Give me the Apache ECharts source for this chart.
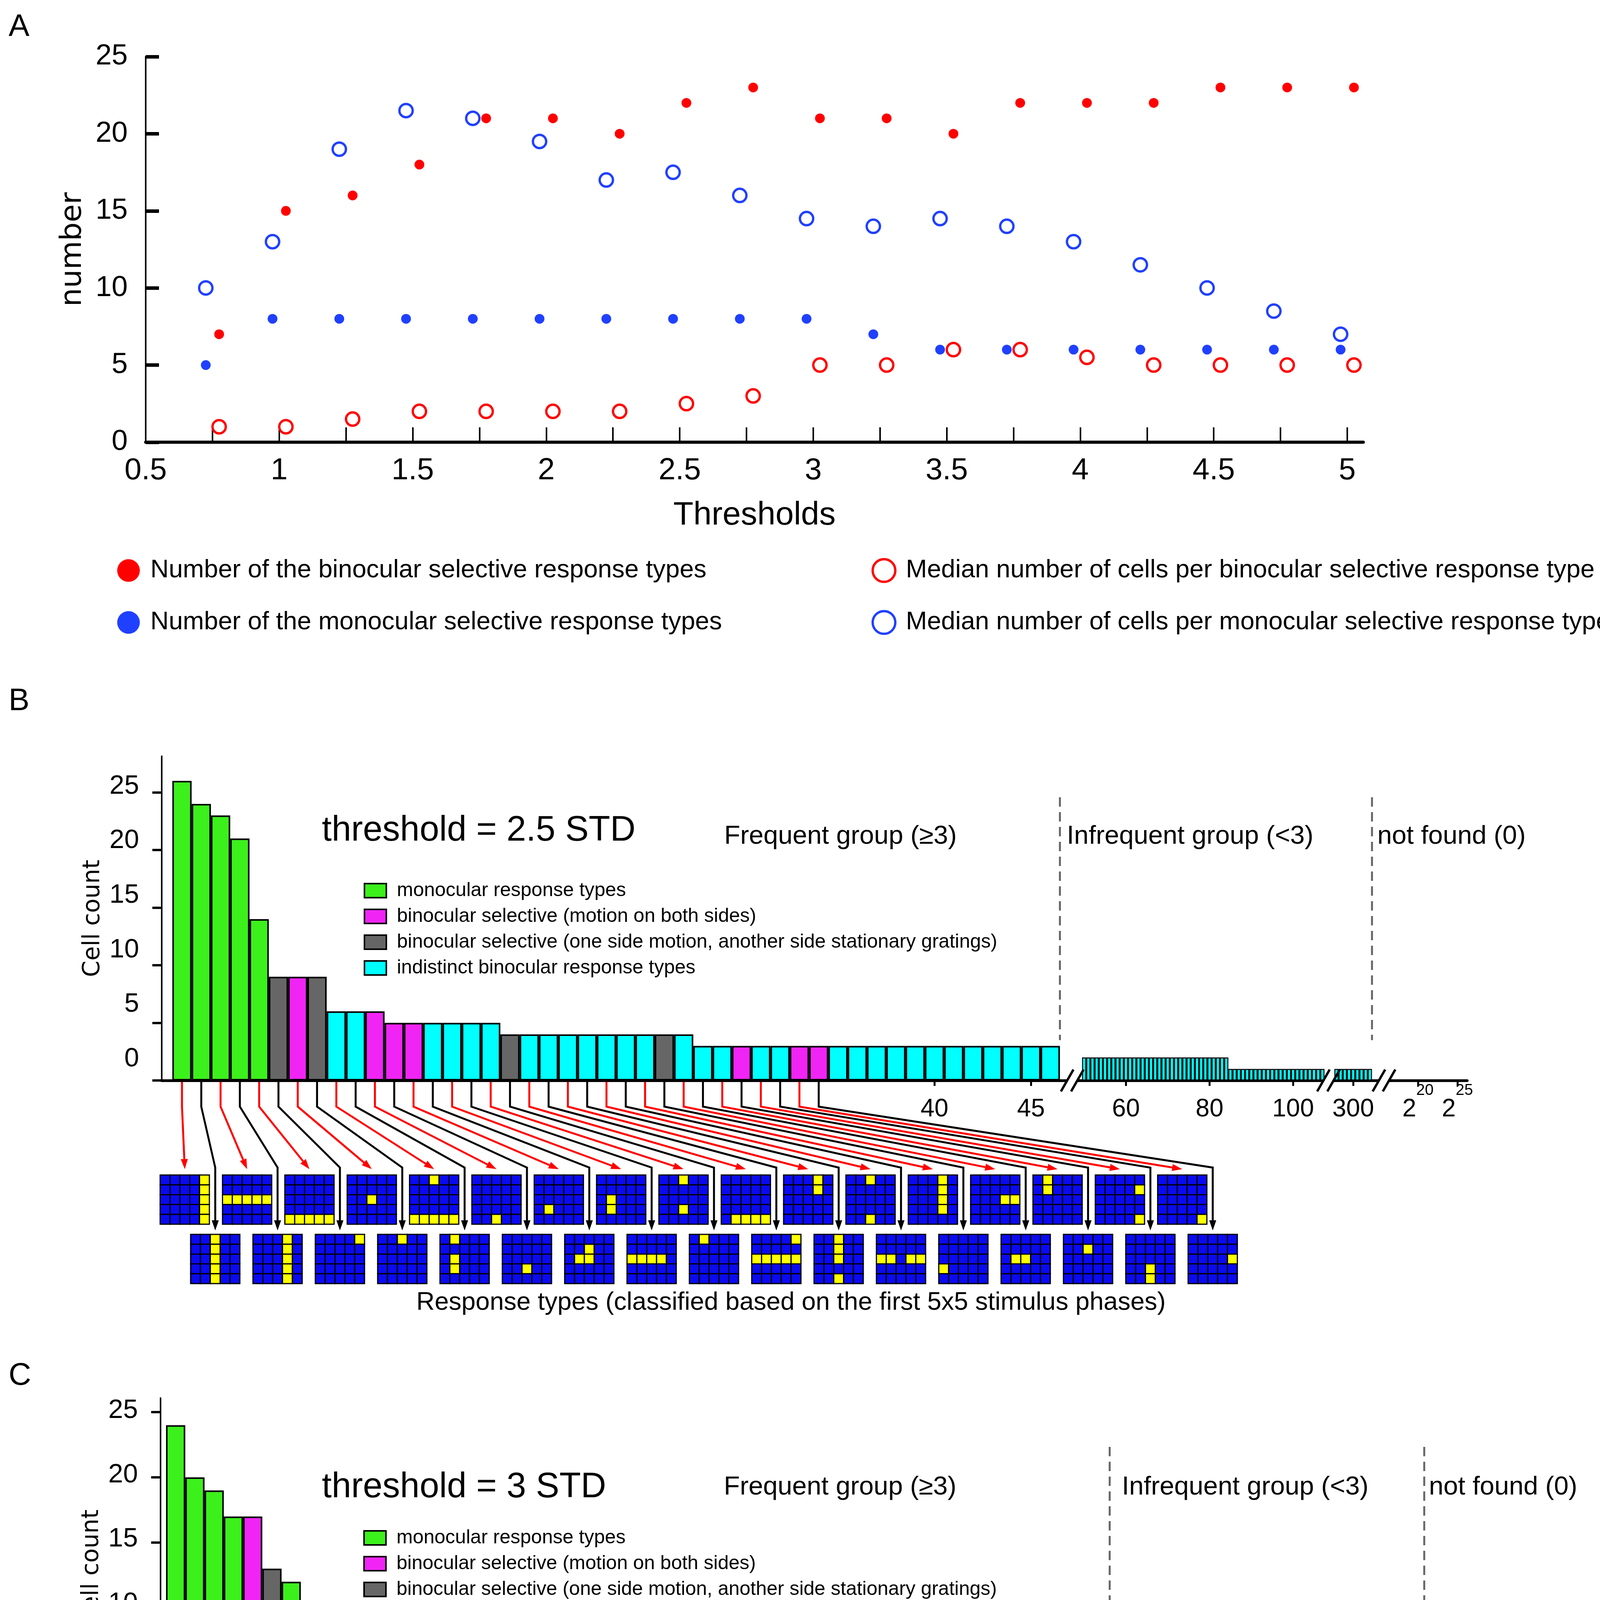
<!DOCTYPE html>
<html>
<head>
<meta charset="utf-8">
<title>Figure S5</title>
<script src="https://cdn.jsdelivr.net/npm/echarts@6.0.0/dist/echarts.min.js"></script>
<style>
  html, body { margin: 0; padding: 0; background: #fff; }
  #chart { width: 4442px; height: 6865px; }
</style>
</head>
<body>
<div id="chart"></div>
<script>
// ---------- panel A data ----------
const thresholds = [0.75, 1, 1.25, 1.5, 1.75, 2, 2.25, 2.5, 2.75, 3, 3.25, 3.5, 3.75, 4, 4.25, 4.5, 4.75, 5];
const binocularTypes = [7, 15, 16, 18, 21, 21, 20, 22, 23, 21, 21, 20, 22, 22, 22, 23, 23, 23];
const monocularTypes = [5, 8, 8, 8, 8, 8, 8, 8, 8, 8, 7, 6, 6, 6, 6, 6, 6, 6];
const binocularMedian = [1, 1, 1.5, 2, 2, 2, 2, 2.5, 3, 5, 5, 6, 6, 5.5, 5, 5, 5, 5];
const monocularMedian = [10, 13, 19, 21.5, 21, 19.5, 17, 17.5, 16, 14.5, 14, 14.5, 14, 13, 11.5, 10, 8.5, 7];
const thresholdTicks = [0.5, 0.75, 1, 1.25, 1.5, 1.75, 2, 2.25, 2.5, 2.75, 3, 3.25, 3.5, 3.75, 4, 4.25, 4.5, 4.75, 5];
const thresholdLabels = [0.5, 1, 1.5, 2, 2.5, 3, 3.5, 4, 4.5, 5];

// ---------- panels B-D data ----------
// type codes: g monocular, m binocular (motion both sides), k binocular (motion + stationary), c indistinct
const countsB = [26, 24, 23, 21, 14, 9, 9, 9, 6, 6, 6, 5, 5, 5, 5, 5, 5, 4, 4, 4, 4, 4, 4, 4, 4, 4, 4,
  3, 3, 3, 3, 3, 3, 3, 3, 3, 3, 3, 3, 3, 3, 3, 3, 3, 3, 3];
const typesB = 'ggggg kmk cc mmm cccc k ccccccc k ccc m cc mm cccccccccccc'.replace(/ /g, '').split('');
const countsC = [24, 20, 19, 17, 17, 13, 12, 7, 7, 7, 7, 6, 6, 6, 6, 6, 5, 5, 5, 5, 5, 5, 5, 5, 4, 4, 4, 4, 4,
  3, 3, 3, 3, 3, 3, 3, 3, 3, 3, 3, 3, 3, 3, 3, 3, 3, 3, 3, 3];
const typesC = 'gggg m k g mmmmmmm cc mm kk cccc ccccc g mm k cccccccccccccccc'.replace(/ /g, '').split('');
const countsD = [27, 19, 16, 16, 13, 13, 12, 10, 9, 8, 7, 7, 7, 7, 6, 6, 6, 5, 5, 5, 5, 5, 4, 4, 4, 4, 4, 4,
  3, 3, 3, 3, 3, 3, 3, 3, 3, 3, 3, 3, 3, 3, 3, 3, 3, 3, 3, 3];
const typesD = 'g m ggg k c mm c k mmmm k mm c k ccc m c k cc k mm ccccccccccccccccc'.replace(/ /g, '').split('');

// infrequent group (after the first axis break)
const infreqStart = 50;
const infreqB = [2, 2, 2, 2, 2, 2, 2, 2, 2, 2, 2, 2, 2, 2, 2, 2, 2, 2, 2, 2, 2, 2, 2, 2, 2, 2, 2, 2, 2, 2,
  2, 2, 2, 2, 2, 1, 1, 1, 1, 1, 1, 1, 1, 1, 1, 1, 1, 1, 1, 1, 1, 1, 1, 1, 1, 1, 1, 1];
const infreqC = [2, 2, 2, 2, 2, 2, 2, 2, 2, 2, 2, 2, 2, 2, 2, 2, 2, 2, 2, 2, 2, 2, 2, 2, 2, 2, 2, 2, 2, 2,
  2, 1, 1, 1, 1, 1, 1, 1, 1, 1, 1, 1, 1, 1, 1, 1, 1, 1, 1, 1, 1, 1, 1, 1, 1, 1, 1, 1];
const infreqD = [2, 2, 2, 2, 2, 2, 2, 2, 2, 2, 2, 2, 2, 2, 2, 2, 2, 2, 2, 2, 2, 2, 2, 2, 2, 2, 2,
  1, 1, 1, 1, 1, 1, 1, 1, 1, 1, 1, 1, 1, 1, 1, 1, 1, 1, 1, 1, 1, 1, 1, 1, 1, 1, 1, 1, 1, 1, 1];
// last segment of the infrequent group (after the second break)
const tailB = [1, 1, 1, 1, 1, 1, 1, 1, 1];
const tailC = [1, 1, 1, 1, 1, 1, 1, 1, 1, 1];
const tailD = [1, 1, 1, 1, 1, 1, 1, 1, 1];
const tailStartB = 296, tailStartC = 247, tailStartD = 207;

// tick labels
const yTicks = [0, 5, 10, 15, 20, 25];
const freqTicks = [40, 45];
const infreqTicks = [60, 80, 100];
const tailTicksB = [300], tailTicksC = [250], tailTicksD = [210];
const notFoundExps = [20, 25];

// 5x5 response type icons (rows top to bottom, 1 = yellow)
const iconsBTop = [
  '00001 00001 00001 00001 00001', '00000 00000 11111 00000 00000', '00000 00000 00000 00000 11111',
  '00000 00000 00100 00000 00000', '00100 00000 00000 00000 11111', '00000 00000 00000 00000 00100',
  '00000 00000 00000 01000 00000', '00000 00000 01000 01000 00000', '00100 00000 00000 00100 00000',
  '00000 00000 00000 00000 01111', '00010 00010 00000 00000 00000', '00100 00000 00000 00000 00100',
  '00010 00010 00010 00010 00000', '00000 00000 00011 00000 00000', '01000 01000 00000 00000 00000',
  '00000 00001 00000 00000 00001', '00000 00000 00000 00000 00001'];
const iconsBBottom = [
  '00100 00100 00100 00100 00100', '00010 00010 00010 00010 00010', '00001 00000 00000 00000 00000',
  '00100 00000 00000 00000 00000', '01000 00000 01000 01000 00000', '00000 00000 00000 00100 00000',
  '00000 00100 01100 00000 00000', '00000 00000 11110 00000 00000', '01000 00000 00000 00000 00000',
  '00001 00000 11111 00000 00000', '00100 00100 00100 00000 00100', '00000 00000 11011 00000 00000',
  '00000 00000 00000 10000 00000', '00000 00000 01100 00000 00000', '00000 00100 00000 00000 00000',
  '00000 00000 00000 00100 00100', '00000 00000 00001 00000 00000'];
const iconsCTop = [
  '00001 00001 00001 00001 00001', '00000 00000 11111 00000 00000', '00000 00000 00100 00000 00000',
  '00000 00000 00000 00000 11111', '00000 00000 01000 00000 00000', '00000 00000 00010 00000 00000',
  '00000 00000 00000 01000 00000', '00000 00000 01100 00000 00000', '00000 00010 00000 00000 00000',
  '01000 00000 00000 00000 00000', '00000 00000 11110 00000 00000', '00000 00000 00000 01100 00000',
  '00100 00000 00100 00000 00100', '00100 00000 00000 00000 11111', '00000 00000 01000 01000 00000',
  '00000 01000 00000 00000 00000', '00010 00000 00000 00000 00000'];
const iconsCBottom = [
  '00100 00100 00100 00100 00100', '00010 00010 00010 00010 00010', '00100 00000 00000 00000 00000',
  '00000 00000 00000 00000 00001', '00000 00000 00000 00100 00000', '00000 00000 00000 00000 00100',
  '00000 00000 00001 00000 00000', '01000 00000 01000 01000 00000', '00000 00100 00000 00000 00000',
  '00001 00000 00000 00000 00000', '00010 00010 00010 00010 00000', '00000 00001 00000 00000 00001',
  '00100 00000 00000 00000 00100', '00000 00100 01100 00000 00000', '00000 11111 00000 00000 00000',
  '00000 00000 00000 00010 00000', '00010 00000 00010 00010 00010'];
const iconsDTop = [
  '00001 00001 00001 00001 00001', '00100 00100 00100 00100 00100', '00000 00000 00000 00000 11111',
  '00010 00010 00010 00010 00010', '00000 00000 00010 00000 00000', '01000 00000 00000 00000 00000',
  '00000 01000 00000 00000 00000', '00000 00000 01000 00000 00000', '00000 00010 00000 00000 00000',
  '00010 00010 00010 00010 00000', '00000 00000 11110 00000 00000', '01000 00000 00000 01000 00000',
  '00010 00010 00000 00000 00010', '01000 00000 01000 01000 00000', '00000 00000 00000 10000 00000',
  '00000 00000 00000 00000 01000', '00000 00000 00001 00001 00000'];
const iconsDBottom = [
  '00000 00000 00100 00000 00000', '00000 00000 11111 00000 00000', '00100 00000 00000 00000 00000',
  '00000 00000 00000 00000 00001', '00000 00000 00000 01100 00000', '00000 00000 00000 01000 00000',
  '00000 00000 00000 00000 00100', '00010 00000 00000 00000 00000', '00000 00000 00000 00100 00000',
  '00001 00000 00000 00000 00000', '00000 00000 11000 00000 00000', '00000 00100 00000 00000 00000',
  '00010 00010 00000 00000 00000', '00000 00000 11011 00000 00000', '00000 00000 00001 00000 00000',
  '00000 00000 00000 00000 00011', '00000 00000 01110 00000 00000'];

// ---------- styling / layout ----------
const FONT = '"Liberation Sans", Arial, sans-serif';
const VFONT = '"DejaVu Sans", Verdana, sans-serif';
const TYPE_KEYS = ['g', 'm', 'k', 'c'];
const TYPE_NAMES = {
  g: 'monocular response types',
  m: 'binocular selective (motion on both sides)',
  k: 'binocular selective (one side motion, another side stationary gratings)',
  c: 'indistinct binocular response types'
};
const TYPE_COLORS = { g: '#3cf01c', m: '#f024f5', k: '#666666', c: '#00ffff' };
const RED = '#ff0000', BLUE = '#2040ff';
const ICON_BLUE = '#0a0af0', ICON_YELLOW = '#ffff00';
const ICON_CELL = 25.2;
const ICON_STEP = 159.6 / ICON_CELL;

const layoutB = {
  letter: 'B', letterY: 1796, threshold: 'threshold = 2.5 STD',
  y0: 2766, yTop: 1936, unit: 29.5, labY0: 2711, labY25: 2013,
  F: { left: 414, right: 2745, min: -0.05, max: 47.14 },
  I: { left: 2745, right: 3401, min: 47.16, max: 108.47 },
  S: { left: 3401, right: 3543, min: 294.1, max: 307.37 },
  N: { left: 3543, right: 3756, min: 15.69, max: 26.24 },
  dashTop: 2041, dashBottomVal: 3.5, legend: { left: 926, top: 2250 },
  titleX: 824, titleY: 2127, groupY: 2142, freqX: 1854, infreqX: 2731, nfX: 3526,
  iconTop: { left: 410, top: 3008 }, iconBot: { left: 488, top: 3160 },
  redTipY: 2993, blackTipY: 3150, captionY: 3335
};
const layoutC = {
  letter: 'C', letterY: 3523, threshold: 'threshold = 3 STD',
  y0: 4450, yTop: 3579, unit: 33.4, labY0: 4435, labY25: 3611,
  F: { left: 411, right: 2861, min: 0.216, max: 49.91 },
  I: { left: 2861, right: 3521, min: 46.7, max: 108.38 },
  S: { left: 3521, right: 3663, min: 244.7, max: 258.1 },
  N: { left: 3663, right: 3882, min: 17.55, max: 27.88 },
  dashTop: 3704, dashBottomVal: 3.3, legend: { left: 925, top: 3907 },
  titleX: 824, titleY: 3808, groupY: 3808, freqX: 1853, infreqX: 2872, nfX: 3658,
  iconTop: { left: 400, top: 4689 }, iconBot: { left: 478, top: 4841 },
  redTipY: 4673, blackTipY: 4830, captionY: 5011
};
const layoutD = {
  letter: 'D', letterY: 5219, threshold: 'threshold = 3.5 STD',
  y0: 6103, yTop: 5275, unit: 28.5, labY0: 6087, labY25: 5395,
  F: { left: 411, right: 2840, min: -0.067, max: 49.1 },
  I: { left: 2840, right: 3498, min: 46.9, max: 108.17 },
  S: { left: 3498, right: 3628, min: 204.7, max: 216.96 },
  N: { left: 3628, right: 3852, min: 15.33, max: 25.9 },
  dashTop: 5389, dashBottomVal: 3.2, legend: { left: 925, top: 5606 },
  titleX: 824, titleY: 5477, groupY: 5490, freqX: 1853, infreqX: 2837, nfX: 3628,
  iconTop: { left: 407, top: 6347 }, iconBot: { left: 488, top: 6499 },
  redTipY: 6330, blackTipY: 6488, captionY: 6671
};

const grid = [], xAxis = [], yAxis = [], series = [], legend = [];

// ---------- panel A ----------
grid.push({ left: 373, top: 145, width: 3076 * 4.56 / 4.5, height: 987 });
xAxis.push({
  gridIndex: 0, type: 'value', min: 0.5, max: 5.06,
  name: 'Thresholds', nameLocation: 'middle', nameGap: 146,
  nameTextStyle: { fontSize: 84, fontFamily: FONT, color: '#000' },
  axisLine: { onZero: false, lineStyle: { color: '#000', width: 8 } },
  axisTick: { inside: true, length: 38, customValues: thresholdTicks, lineStyle: { color: '#000', width: 4 } },
  axisLabel: { customValues: thresholdLabels, fontSize: 78, fontFamily: FONT, color: '#000', margin: 34 },
  splitLine: { show: false }
});
yAxis.push({
  gridIndex: 0, type: 'value', min: 0, max: 25, interval: 5,
  name: 'number', nameLocation: 'middle', nameGap: 148,
  nameTextStyle: { fontSize: 75, fontFamily: VFONT, color: '#000' },
  axisLine: { show: true, lineStyle: { color: '#000', width: 4 } },
  axisTick: { show: true, inside: true, length: 34, lineStyle: { color: '#000', width: 9 } },
  axisLabel: { fontSize: 74, fontFamily: FONT, color: '#000', margin: 46 },
  splitLine: { show: false }
});

const aSeries = [
  { name: 'Median number of cells per monocular selective response type', vals: monocularMedian, dx: -0.025, color: BLUE, open: true },
  { name: 'Median number of cells per binocular selective response type', vals: binocularMedian, dx: 0.025, color: RED, open: true },
  { name: 'Number of the monocular selective response types', vals: monocularTypes, dx: -0.025, color: BLUE, open: false },
  { name: 'Number of the binocular selective response types', vals: binocularTypes, dx: 0.025, color: RED, open: false }
];
aSeries.forEach(s => series.push({
  type: 'scatter', name: s.name, xAxisIndex: 0, yAxisIndex: 0,
  symbol: 'circle', symbolSize: s.open ? 34 : 25,
  itemStyle: s.open
    ? { color: 'rgba(255,255,255,0)', borderColor: s.color, borderWidth: 6, opacity: 1 }
    : { color: s.color, opacity: 1 },
  data: thresholds.map((t, i) => [t + s.dx, s.vals[i]])
}));

const aLegendText = { fontSize: 65, fontFamily: FONT, color: '#000', lineHeight: 58, padding: [0, 0, 0, 22] };
legend.push({
  left: 295, top: 1423, orient: 'vertical', itemWidth: 58, itemHeight: 58, itemGap: 68, selectedMode: false,
  textStyle: aLegendText,
  data: [
    { name: 'Number of the binocular selective response types', icon: 'circle', itemStyle: { color: RED, borderWidth: 0 } },
    { name: 'Number of the monocular selective response types', icon: 'circle', itemStyle: { color: BLUE, borderWidth: 0 } }
  ]
});
legend.push({
  left: 2226, top: 1423, orient: 'vertical', itemWidth: 58, itemHeight: 58, itemGap: 68, selectedMode: false,
  textStyle: aLegendText,
  data: [
    { name: 'Median number of cells per binocular selective response type', icon: 'circle', itemStyle: { color: '#fff', borderColor: RED, borderWidth: 6 } },
    { name: 'Median number of cells per monocular selective response type', icon: 'circle', itemStyle: { color: '#fff', borderColor: BLUE, borderWidth: 6 } }
  ]
});

// ---------- bar panels ----------
function addBarPanel(p, L) {
  const height = L.y0 - L.yTop;
  const ymax = height / L.unit;
  const ids = {};
  const segTicks = { F: freqTicks, I: infreqTicks, S: p.tailTicks, N: notFoundExps };
  ['F', 'I', 'S', 'N'].forEach(seg => {
    const g = L[seg];
    const gi = grid.length;
    grid.push({ left: g.left, top: L.yTop, width: g.right - g.left, height });
    const xi = xAxis.length;
    const label = { customValues: segTicks[seg], fontSize: 64, fontFamily: FONT, color: '#000', margin: 42 };
    if (seg === 'N') {
      label.formatter = v => '{b|2}{s|' + v + '}';
      label.margin = 6;
      label.rich = {
        b: { fontSize: 64, fontFamily: FONT, color: '#000', verticalAlign: 'bottom', padding: [36, 0, 0, 0] },
        s: { fontSize: 40, fontFamily: FONT, color: '#000', verticalAlign: 'top' }
      };
    }
    xAxis.push({
      gridIndex: gi, type: 'value', min: g.min, max: g.max,
      axisLine: { onZero: false, lineStyle: { color: '#000', width: 7 } },
      axisTick: { show: true, inside: false, length: 14, customValues: segTicks[seg], lineStyle: { color: '#000', width: 5 } },
      axisLabel: label,
      splitLine: { show: false }
    });
    const yi = yAxis.length;
    yAxis.push({
      gridIndex: gi, type: 'value', min: 0, max: ymax, show: seg === 'F', position: 'left',
      name: seg === 'F' ? 'Cell count' : '', nameLocation: 'middle', nameGap: 146,
      nameTextStyle: { fontSize: 60, fontFamily: VFONT, color: '#000' },
      axisLine: { show: true, onZero: false, lineStyle: { color: '#000', width: 4 } },
      axisTick: { show: true, inside: false, length: 24, customValues: yTicks, lineStyle: { color: '#000', width: 6 } },
      axisLabel: { show: false },
      splitLine: { show: false }
    });
    ids[seg] = { xi, yi, w: (g.right - g.left) / (g.max - g.min) };
  });

  // tick labels sit a little above their ticks in the original
  const lu = (L.labY0 - L.labY25) / 25;
  yAxis.push({
    gridIndex: grid.length - 4, type: 'value', position: 'left',
    min: (L.labY0 - L.y0) / lu, max: (L.labY0 - L.yTop) / lu,
    axisLine: { show: false }, axisTick: { show: false }, splitLine: { show: false },
    axisLabel: { customValues: yTicks, fontSize: 68, fontFamily: FONT, color: '#000', margin: 58 }
  });

  TYPE_KEYS.forEach(t => {
    series.push({
      type: 'bar', name: TYPE_NAMES[t], xAxisIndex: ids.F.xi, yAxisIndex: ids.F.yi,
      barWidth: ids.F.w, barGap: '-100%', silent: true,
      itemStyle: { color: TYPE_COLORS[t], borderColor: '#000', borderWidth: 4 },
      data: p.counts.map((v, i) => (p.types[i] === t ? [i + 1, v] : null)).filter(d => d)
    });
  });
  series.push({
    type: 'bar', name: 'infrequent', xAxisIndex: ids.I.xi, yAxisIndex: ids.I.yi,
    barWidth: ids.I.w, silent: true,
    itemStyle: { color: TYPE_COLORS.c, borderColor: '#000', borderWidth: 2.5 },
    data: p.infreq.map((v, i) => [infreqStart + i, v])
  });
  series.push({
    type: 'bar', name: 'infrequent tail', xAxisIndex: ids.S.xi, yAxisIndex: ids.S.yi,
    barWidth: ids.S.w, silent: true,
    itemStyle: { color: TYPE_COLORS.c, borderColor: '#000', borderWidth: 2.5 },
    data: p.tail.map((v, i) => [p.tailStart + i, v])
  });

  legend.push({
    left: L.legend.left, top: L.legend.top, orient: 'vertical', icon: 'rect',
    itemWidth: 56, itemHeight: 36, itemGap: 16, selectedMode: false,
    itemStyle: { borderColor: '#000', borderWidth: 4 },
    textStyle: { fontSize: 50, fontFamily: FONT, color: '#000', lineHeight: 38, padding: [0, 0, 0, 22] },
    data: TYPE_KEYS.map(t => TYPE_NAMES[t])
  });

  // icon rows
  [['iconTop', p.iconsTop], ['iconBot', p.iconsBottom]].forEach(([key, icons]) => {
    const pos = L[key];
    const span = (icons.length - 1) * ICON_STEP + 5;
    const gi = grid.length;
    grid.push({ left: pos.left, top: pos.top, width: span * ICON_CELL, height: 5 * ICON_CELL });
    const xi = xAxis.length;
    xAxis.push({ gridIndex: gi, type: 'value', min: 0, max: span, show: false, splitLine: { show: false } });
    const yi = yAxis.length;
    yAxis.push({ gridIndex: gi, type: 'value', min: 0, max: 5, inverse: true, show: false, splitLine: { show: false } });
    const data = [];
    icons.forEach((s, k) => {
      const bits = s.replace(/ /g, '');
      for (let r = 0; r < 5; r++) for (let c = 0; c < 5; c++) data.push([k, c, r, +bits[r * 5 + c]]);
    });
    series.push({
      type: 'custom', name: 'icons', xAxisIndex: xi, yAxisIndex: yi, silent: true,
      dimensions: ['icon', 'col', 'row', 'on'], encode: { x: 'col', y: 'row' },
      data,
      renderItem: (params, api) => {
        const x = api.value(0) * ICON_STEP + api.value(1);
        const r = api.value(2);
        const p0 = api.coord([x, r]);
        const p1 = api.coord([x + 1, r + 1]);
        return {
          type: 'rect',
          shape: { x: p0[0], y: p0[1], width: p1[0] - p0[0], height: p1[1] - p0[1] },
          style: { fill: api.value(3) ? ICON_YELLOW : ICON_BLUE, stroke: '#000', lineWidth: 3 }
        };
      }
    });
    ids[key] = { xi, yi };
  });
  return ids;
}

const panels = [
  { counts: countsB, types: typesB, infreq: infreqB, tail: tailB, tailStart: tailStartB, tailTicks: tailTicksB,
    iconsTop: iconsBTop, iconsBottom: iconsBBottom, L: layoutB },
  { counts: countsC, types: typesC, infreq: infreqC, tail: tailC, tailStart: tailStartC, tailTicks: tailTicksC,
    iconsTop: iconsCTop, iconsBottom: iconsCBottom, L: layoutC },
  { counts: countsD, types: typesD, infreq: infreqD, tail: tailD, tailStart: tailStartD, tailTicks: tailTicksD,
    iconsTop: iconsDTop, iconsBottom: iconsDBottom, L: layoutD }
];
panels.forEach(p => { p.ids = addBarPanel(p, p.L); });

const chart = echarts.init(document.getElementById('chart'), null, { renderer: 'canvas', devicePixelRatio: 1 });
chart.setOption({
  backgroundColor: '#fff',
  animation: false,
  grid, xAxis, yAxis, series, legend
});

// ---------- annotations ----------
const gfx = [];
function addText(str, x, y, size, align, family) {
  gfx.push({
    type: 'text', silent: true, z: 50,
    style: {
      text: str, x, y, fill: '#000', font: size + 'px ' + (family || FONT),
      textAlign: align || 'left', align: align || 'left',
      textVerticalAlign: 'middle', verticalAlign: 'middle'
    }
  });
}
function addPoly(points, color) {
  gfx.push({ type: 'polyline', silent: true, z: 50, shape: { points },
    style: { stroke: color, lineWidth: 5, fill: 'none', lineJoin: 'miter' } });
}
function addHead(tip, ux, uy, color) {
  const len = 26, half = 9;
  const bx = tip[0] - ux * len, by = tip[1] - uy * len;
  gfx.push({ type: 'polygon', silent: true, z: 51,
    shape: { points: [tip, [bx + uy * half, by - ux * half], [bx - uy * half, by + ux * half]] },
    style: { fill: color } });
  return [bx, by];
}
function addBreak(x, y) {
  gfx.push({ type: 'rect', silent: true, z: 49, shape: { x: x - 13, y: y - 6, width: 26, height: 12 }, style: { fill: '#fff' } });
  [-13, 13].forEach(o => gfx.push({ type: 'line', silent: true, z: 50,
    shape: { x1: x + o - 16, y1: y + 28, x2: x + o + 16, y2: y - 28 }, style: { stroke: '#000', lineWidth: 6 } }));
}

addText('A', 22, 70, 80);
addText('Figure S5', 4403, 6780, 88, 'right');

panels.forEach(p => {
  const L = p.L, ids = p.ids;
  const px = (id, v) => chart.convertToPixel({ xAxisIndex: id.xi, yAxisIndex: id.yi }, v);
  addText(L.letter, 22, L.letterY, 80);
  addText(L.threshold, L.titleX, L.titleY, 90);
  addText('Frequent group (\u22653)', L.freqX, L.groupY, 67);
  addText('Infrequent group (<3)', L.infreqX, L.groupY, 67);
  addText('not found (0)', L.nfX, L.groupY, 67);
  addText('Response types (classified based on the first 5x5 stimulus phases)', 2025, L.captionY, 65, 'center');

  // dashed separators between groups
  const dashBottom = px(ids.F, [0, L.dashBottomVal])[1];
  const xd1 = px(ids.F, [p.counts.length + 0.5, 0])[0];
  const xd2 = px(ids.S, [p.tailStart + p.tail.length - 0.5, 0])[0];
  [xd1, xd2].forEach(x => gfx.push({ type: 'line', silent: true, z: 50,
    shape: { x1: x, y1: L.dashTop, x2: x, y2: dashBottom },
    style: { stroke: '#666', lineWidth: 5, lineDash: [24, 14] } }));

  [L.F.right, L.I.right, L.S.right].forEach(x => addBreak(x, L.y0));

  // arrows from bars to the response type icons
  const nArrows = p.iconsTop.length + p.iconsBottom.length;
  for (let i = 1; i <= nArrows; i++) {
    const base = px(ids.F, [i, 0]);
    const x0 = base[0], y0 = base[1] + 4, bendY = base[1] + 67;
    const top = i % 2 === 1;
    const k = top ? (i - 1) / 2 : i / 2 - 1;
    const tx = px(top ? ids.iconTop : ids.iconBot, [k * ICON_STEP + 2.5, 0])[0];
    if (top) {
      const tip = [tx, L.redTipY];
      const dx = tip[0] - x0, dy = tip[1] - bendY, len = Math.hypot(dx, dy);
      const end = addHead(tip, dx / len, dy / len, RED);
      addPoly([[x0, y0], [x0, bendY], end], RED);
    } else {
      const tip = [tx, L.blackTipY];
      const end = addHead(tip, 0, 1, '#000');
      addPoly([[x0, y0], [x0, bendY], [tx, L.redTipY - 4], end], '#000');
    }
  }
});

chart.setOption({ graphic: { elements: gfx } });
</script>
</body>
</html>
